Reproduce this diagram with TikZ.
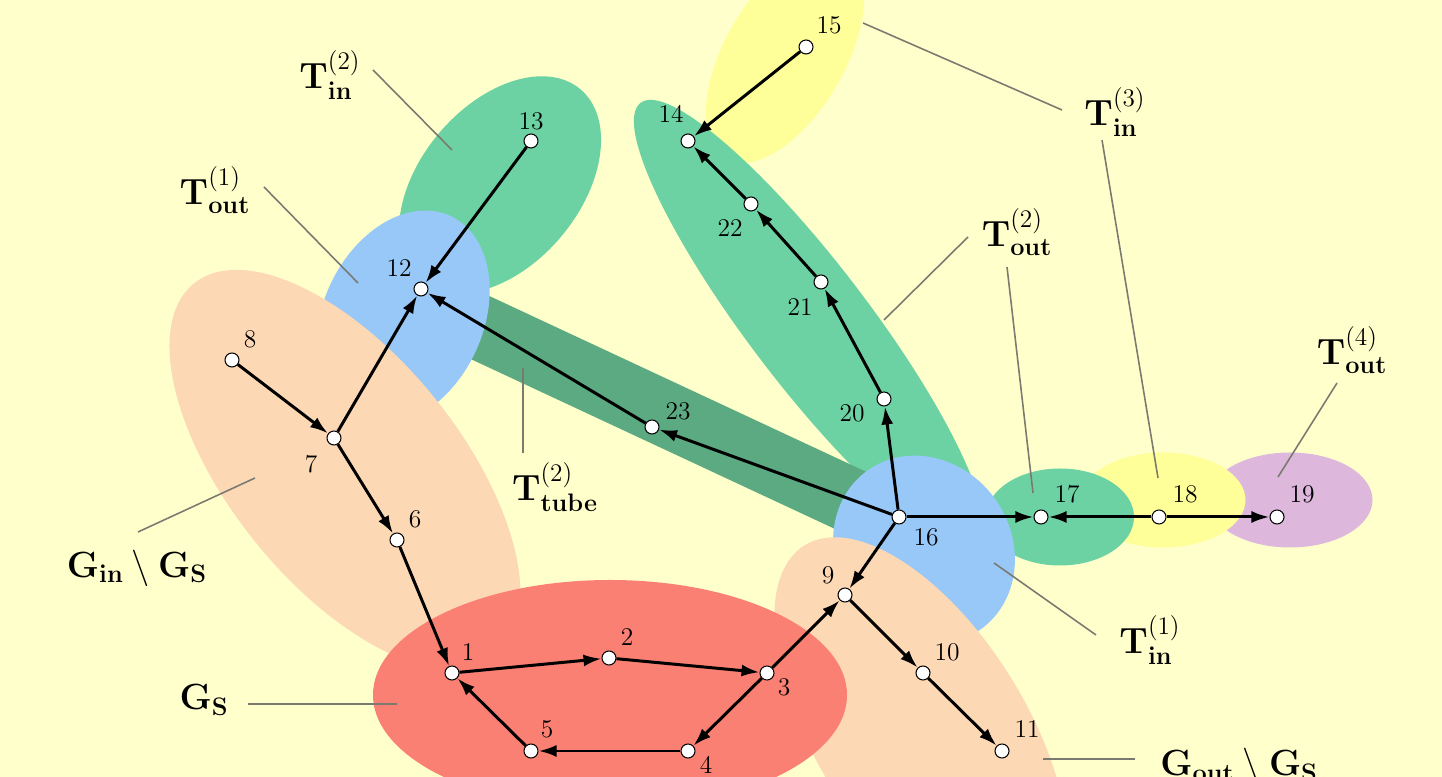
\documentclass[tikz,border=0pt]{standalone}
\usepackage{amssymb}
\usepackage{tikz}
\usetikzlibrary{arrows.meta}

\definecolor{sfondo}{HTML}{FFFFCC}
\definecolor{rosso}{HTML}{F98072}
\definecolor{pesca}{HTML}{FDD8B5}
\definecolor{azzurro}{HTML}{97C8F7}
\definecolor{verde}{HTML}{6DD2A3}
\definecolor{tubo}{HTML}{5BAA82}
\definecolor{giallo}{HTML}{FFFF99}
\definecolor{viola}{HTML}{DDB7DC}
\definecolor{grigio}{HTML}{7A7A70}

\begin{document}
\begin{tikzpicture}[
		vtx/.style={circle, draw=black, line width=0.6pt, fill=white, inner sep=0pt, minimum size=0.28cm},
		num/.style={font=\fontsize{14.5}{17}\selectfont, inner sep=0pt},
		etichetta/.style={font=\fontsize{22}{26}\selectfont, inner sep=0pt},
		etichettaG/.style={font=\fontsize{20.5}{24}\selectfont, inner sep=0pt},
		arco/.style={line width=1.7pt, -{Latex[length=0.36cm, width=0.24cm]}},
		guida/.style={draw=grigio, line width=0.9pt}
	]
				% Sfondo
				\clip (0, 0) rectangle (28.84, 15.54);
				\fill[sfondo] (0, 0) rectangle (28.84, 15.54);
				
				% Insiemi a destra
				\fill[viola] (25.8, 5.54) ellipse [x radius=1.65, y radius=0.95];
				\fill[giallo] (23.26, 5.54) ellipse [x radius=1.65, y radius=0.95];
				\fill[verde] (21.2, 5.2) ellipse [x radius=1.48, y radius=0.97];
				
				% Insiemi in alto
				\fill[giallo] (15.7, 14.44) ellipse [x radius=2.4, y radius=1.2, rotate=60];
				\fill[verde] (16.18, 9.06) ellipse [x radius=5.56, y radius=1.2, rotate=-52.7];
				
				% Tubo tra 12 e 16
				\coordinate (tubo12) at (8.42, 9.54);
				\coordinate (tubo16) at (17.98, 5.08);
				\draw[tubo, line width=1.3cm] (tubo12) -- (tubo16);
				
				% Insiemi a sinistra
				\fill[verde] (10.0, 11.84) ellipse [x radius=2.5, y radius=1.6, rotate=50];
				\fill[azzurro] (8.06, 9.18) ellipse [x radius=2.25, y radius=1.6, rotate=65];
				\fill[pesca] (6.9, 6.14) ellipse [x radius=4.8, y radius=2.3, rotate=-51];
				
				% Insiemi in basso
				\fill[azzurro] (18.48, 4.54) ellipse [x radius=1.95, y radius=1.75, rotate=-55];
				\fill[pesca] (18.42, 0.9) ellipse [x radius=4.4, y radius=2.1, rotate=-58];
				\fill[rosso] (12.2, 1.64) ellipse [x radius=4.74, y radius=2.3];
				
				% Vertici
				\node[vtx] (n1) at (9.04, 2.08) {};
				\node[vtx] (n2) at (12.18, 2.38) {};
				\node[vtx] (n3) at (15.34, 2.08) {};
				\node[vtx] (n4) at (13.76, 0.52) {};
				\node[vtx] (n5) at (10.62, 0.52) {};
				\node[vtx] (n6) at (7.94, 4.74) {};
				\node[vtx] (n7) at (6.68, 6.78) {};
				\node[vtx] (n8) at (4.64, 8.34) {};
				\node[vtx] (n9) at (16.90, 3.64) {};
				\node[vtx] (n10) at (18.46, 2.08) {};
				\node[vtx] (n11) at (20.04, 0.52) {};
				\node[vtx] (n12) at (8.42, 9.76) {};
				\node[vtx] (n13) at (10.62, 12.72) {};
				\node[vtx] (n14) at (13.76, 12.72) {};
				\node[vtx] (n15) at (16.12, 14.60) {};
				\node[vtx] (n16) at (17.98, 5.20) {};
				\node[vtx] (n17) at (20.82, 5.20) {};
				\node[vtx] (n18) at (23.18, 5.20) {};
				\node[vtx] (n19) at (25.54, 5.20) {};
				\node[vtx] (n20) at (17.68, 7.56) {};
				\node[vtx] (n21) at (16.42, 9.90) {};
				\node[vtx] (n22) at (15.02, 11.46) {};
				\node[vtx] (n23) at (13.04, 7.00) {};
				
				% Numeri dei vertici
				\node[num] (l1) at (9.36, 2.50) {1};
				\node[num] (l2) at (12.54, 2.80) {2};
				\node[num] (l3) at (15.68, 1.80) {3};
				\node[num] (l4) at (14.12, 0.24) {4};
				\node[num] (l5) at (10.94, 0.96) {5};
				\node[num] (l6) at (8.30, 5.16) {6};
				\node[num] (l7) at (6.22, 6.26) {7};
				\node[num] (l8) at (5.00, 8.76) {8};
				\node[num] (l9) at (16.56, 4.04) {9};
				\node[num] (l10) at (18.94, 2.50) {10};
				\node[num] (l11) at (20.54, 0.96) {11};
				\node[num] (l12) at (7.98, 10.18) {12};
				\node[num] (l13) at (10.62, 13.12) {13};
				\node[num] (l14) at (13.42, 13.26) {14};
				\node[num] (l15) at (16.58, 15.04) {15};
				\node[num] (l16) at (18.52, 4.80) {16};
				\node[num] (l17) at (21.34, 5.66) {17};
				\node[num] (l18) at (23.70, 5.66) {18};
				\node[num] (l19) at (26.04, 5.66) {19};
				\node[num] (l20) at (17.04, 7.28) {20};
				\node[num] (l21) at (16.00, 9.40) {21};
				\node[num] (l22) at (14.60, 10.98) {22};
				\node[num] (l23) at (13.56, 7.32) {23};
				
				% Archi
				\draw[arco] (n8) -- (n7);
				\draw[arco] (n7) -- (n12);
				\draw[arco] (n13) -- (n12);
				\draw[arco] (n23) -- (n12);
				\draw[arco] (n16) -- (n23);
				\draw[arco] (n7) -- (n6);
				\draw[arco] (n6) -- (n1);
				\draw[arco] (n1) -- (n2);
				\draw[arco] (n2) -- (n3);
				\draw[arco] (n3) -- (n4);
				\draw[arco] (n4) -- (n5);
				\draw[arco] (n5) -- (n1);
				\draw[arco] (n3) -- (n9);
				\draw[arco] (n16) -- (n9);
				\draw[arco] (n9) -- (n10);
				\draw[arco] (n10) -- (n11);
				\draw[arco] (n16) -- (n20);
				\draw[arco] (n20) -- (n21);
				\draw[arco] (n21) -- (n22);
				\draw[arco] (n22) -- (n14);
				\draw[arco] (n15) -- (n14);
				\draw[arco] (n16) -- (n17);
				\draw[arco] (n18) -- (n17);
				\draw[arco] (n18) -- (n19);
				
				% Etichette degli insiemi
				\node[etichetta] (tin2) at (6.6, 14.04) {$\mathbf{T}^{(2)}_{\mathbf{in}}$};
				\node[etichetta] (tout1) at (4.3, 11.74) {$\mathbf{T}^{(1)}_{\mathbf{out}}$};
				\node[etichettaG] (gin) at (2.74, 4.18) {$\mathbf{G}_{\mathbf{in}}\setminus\mathbf{G}_{\mathbf{S}}$};
				\node[etichetta] (ttube) at (11.1, 5.8) {$\mathbf{T}^{(2)}_{\mathbf{tube}}$};
				\node[etichettaG] (gs) at (4.08, 1.54) {$\mathbf{G}_{\mathbf{S}}$};
				\node[etichettaG, anchor=base west] (gout) at (23.2, 0.02) {$\mathbf{G}_{\mathbf{out}}\setminus\mathbf{G}_{\mathbf{S}}$};
				\node[etichetta] (tin1) at (23.0, 2.74) {$\mathbf{T}^{(1)}_{\mathbf{in}}$};
				\node[etichetta] (tout4) at (27.04, 8.54) {$\mathbf{T}^{(4)}_{\mathbf{out}}$};
				\node[etichetta] (tin3) at (22.3, 13.3) {$\mathbf{T}^{(3)}_{\mathbf{in}}$};
				\node[etichetta] (tout2) at (20.34, 10.9) {$\mathbf{T}^{(2)}_{\mathbf{out}}$};
				
				% Linee guida
				\coordinate (a1) at (7.46, 14.14); \coordinate (b1) at (9.04, 12.54);
				\coordinate (a2) at (5.28, 11.80); \coordinate (b2) at (7.16, 9.88);
				\coordinate (a3) at (2.76, 4.90); \coordinate (b3) at (5.10, 5.98);
				\coordinate (a4) at (10.46, 6.48); \coordinate (b4) at (10.46, 8.18);
				\coordinate (a5) at (4.96, 1.46); \coordinate (b5) at (7.94, 1.46);
				\coordinate (a6) at (22.70, 0.36); \coordinate (b6) at (20.86, 0.36);
				\coordinate (a7) at (21.92, 2.84); \coordinate (b7) at (19.88, 4.28);
				\coordinate (a8) at (26.74, 7.88); \coordinate (b8) at (25.56, 6.00);
				\coordinate (a9) at (21.24, 13.34); \coordinate (b9) at (17.26, 15.08);
				\coordinate (a10) at (22.04, 12.74); \coordinate (b10) at (23.16, 5.98);
				\coordinate (a11) at (19.36, 10.80); \coordinate (b11) at (17.68, 9.14);
				\coordinate (a12) at (20.14, 10.20); \coordinate (b12) at (20.66, 5.68);
				\draw[guida] (a1) -- (b1);
				\draw[guida] (a2) -- (b2);
				\draw[guida] (a3) -- (b3);
				\draw[guida] (a4) -- (b4);
				\draw[guida] (a5) -- (b5);
				\draw[guida] (a6) -- (b6);
				\draw[guida] (a7) -- (b7);
				\draw[guida] (a8) -- (b8);
				\draw[guida] (a9) -- (b9);
				\draw[guida] (a10) -- (b10);
				\draw[guida] (a11) -- (b11);
				\draw[guida] (a12) -- (b12);
			\end{tikzpicture}
\end{document}
